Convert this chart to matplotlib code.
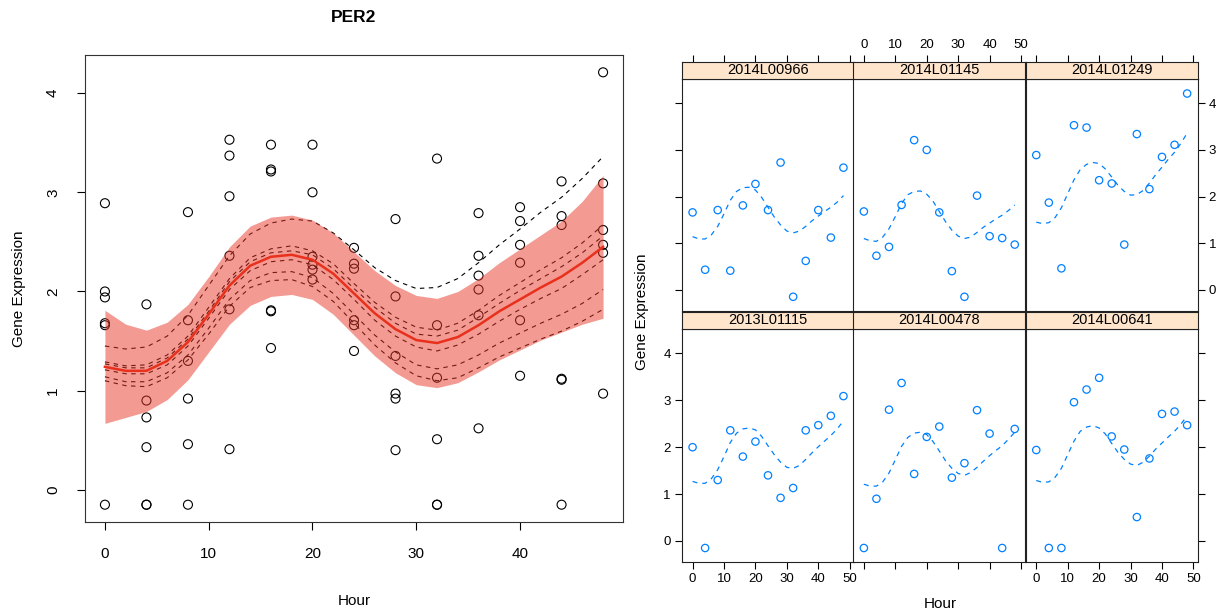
import matplotlib.pyplot as plt
import numpy as np

plt.rcParams['font.family'] = ['Liberation Sans', 'DejaVu Sans']

hours = [0, 4, 8, 12, 16, 20, 24, 28, 32, 36, 40, 44, 48]
subjects = ['2014L00966', '2014L01145', '2014L01249',
            '2013L01115', '2014L00478', '2014L00641']

# observed expression per subject (13 time points each)
expr = {
    '2014L00966': [1.66, 0.43, 1.71, 0.41, 1.81, 2.27, 1.71, 2.73, -0.15, 0.62, 1.71, 1.12, 2.62],
    '2014L01145': [1.68, 0.73, 0.92, 1.82, 3.21, 3.00, 1.66, 0.40, -0.15, 2.02, 1.15, 1.11, 0.97],
    '2014L01249': [2.89, 1.87, 0.46, 3.53, 3.48, 2.35, 2.28, 0.97, 3.34, 2.16, 2.85, 3.11, 4.21],
    '2013L01115': [2.00, -0.15, 1.30, 2.36, 1.80, 2.12, 1.40, 0.92, 1.13, 2.36, 2.47, 2.67, 3.09],
    '2014L00478': [-0.15, 0.90, 2.80, 3.37, 1.43, 2.22, 2.44, 1.35, 1.66, 2.79, 2.29, -0.15, 2.39],
    '2014L00641': [1.94, -0.15, -0.15, 2.96, 3.23, 3.48, 2.23, 1.95, 0.51, 1.76, 2.71, 2.76, 2.47],
}

# fitted curves on a 2 hour grid
fit_hours = [0, 2, 4, 6, 8, 10, 12, 14, 16, 18, 20, 22, 24,
             26, 28, 30, 32, 34, 36, 38, 40, 42, 44, 46, 48]
mean_fit = [1.24, 1.20, 1.20, 1.30, 1.49, 1.77, 2.06, 2.26, 2.35, 2.37, 2.32, 2.18, 1.98,
            1.78, 1.62, 1.51, 1.48, 1.54, 1.66, 1.80, 1.92, 2.04, 2.15, 2.29, 2.45]
band_upper = [1.81, 1.67, 1.61, 1.69, 1.87, 2.15, 2.45, 2.66, 2.75, 2.77, 2.72, 2.59, 2.40,
              2.21, 2.06, 1.96, 1.93, 2.00, 2.13, 2.29, 2.43, 2.57, 2.71, 2.91, 3.17]
band_lower = [0.67, 0.73, 0.79, 0.91, 1.11, 1.39, 1.67, 1.86, 1.95, 1.97, 1.92, 1.77, 1.56,
              1.35, 1.18, 1.06, 1.03, 1.08, 1.19, 1.31, 1.41, 1.51, 1.59, 1.67, 1.73]
subject_fit = {
    '2014L00966': [1.14, 1.09, 1.09, 1.18, 1.36, 1.63, 1.92, 2.11, 2.19, 2.20, 2.14, 1.98, 1.77,
                   1.56, 1.39, 1.26, 1.22, 1.26, 1.36, 1.48, 1.58, 1.68, 1.77, 1.88, 2.02],
    '2014L01145': [1.10, 1.05, 1.04, 1.13, 1.31, 1.57, 1.85, 2.04, 2.11, 2.12, 2.05, 1.90, 1.68,
                   1.46, 1.28, 1.15, 1.10, 1.13, 1.23, 1.34, 1.43, 1.52, 1.60, 1.70, 1.82],
    '2014L01249': [1.45, 1.42, 1.44, 1.55, 1.76, 2.06, 2.36, 2.58, 2.69, 2.73, 2.71, 2.59, 2.42,
                   2.24, 2.11, 2.03, 2.04, 2.13, 2.29, 2.47, 2.63, 2.80, 2.95, 3.14, 3.36],
    '2013L01115': [1.27, 1.23, 1.23, 1.33, 1.52, 1.80, 2.10, 2.30, 2.39, 2.41, 2.37, 2.23, 2.03,
                   1.84, 1.68, 1.57, 1.55, 1.61, 1.74, 1.88, 2.01, 2.13, 2.25, 2.39, 2.56],
    '2014L00478': [1.21, 1.17, 1.17, 1.26, 1.45, 1.73, 2.02, 2.21, 2.30, 2.32, 2.27, 2.12, 1.92,
                   1.71, 1.55, 1.44, 1.40, 1.46, 1.57, 1.70, 1.82, 1.93, 2.03, 2.17, 2.32],
    '2014L00641': [1.29, 1.25, 1.26, 1.36, 1.55, 1.84, 2.13, 2.34, 2.43, 2.46, 2.41, 2.28, 2.08,
                   1.89, 1.74, 1.64, 1.61, 1.68, 1.81, 1.96, 2.09, 2.22, 2.34, 2.49, 2.67],
}

W, H = 1221, 615
fig = plt.figure(figsize=(W / 100, H / 100), dpi=100)


def box(left, top, right, bottom):
    return [left / W, 1 - bottom / H, (right - left) / W, (bottom - top) / H]


# ---------- left: base-style plot ----------
ax = fig.add_axes(box(85, 55, 623, 522))
for s in subjects:
    ax.plot(fit_hours, subject_fit[s], color='black', lw=0.8, linestyle=(0, (4, 4)), zorder=2)
for s in subjects:
    ax.scatter(hours, expr[s], s=42, facecolors='none', edgecolors='black', linewidths=0.8, zorder=3)
ax.fill_between(fit_hours, band_lower, band_upper, color='#E93727', alpha=0.5, lw=0, zorder=4)
ax.plot(fit_hours, mean_fit, color='#E8301C', lw=1.8, zorder=5, solid_joinstyle='round')

ax.set_xlim(-1.92, 49.92)
ax.set_ylim(-0.3244, 4.3844)
ax.set_xticks([0, 10, 20, 30, 40])
ax.set_yticks([0, 1, 2, 3, 4])
ax.tick_params(axis='both', direction='out', length=6, width=0.8, labelsize=11)
ax.tick_params(axis='x', pad=12)
ax.tick_params(axis='y', pad=12, labelrotation=90)
for lab in ax.get_yticklabels():
    lab.set_va('center')
for sp in ax.spines.values():
    sp.set_linewidth(0.8)
    sp.set_color('#333333')

fig.text(354 / W, 1 - 18 / H, 'PER2', ha='center', va='center', fontsize=12.5, fontweight='bold')
fig.text(354 / W, 1 - 601 / H, 'Hour', ha='center', va='center', fontsize=11)
fig.text(19 / W, 1 - 289 / H, 'Gene Expression', ha='center', va='center', fontsize=11, rotation=90)

# ---------- right: lattice-style panels ----------
col_left = [682, 853.3, 1025.7]
col_w = 172
rows = [(61.7, 79.3, 311), (311.7, 329.3, 562.3)]  # strip top, panel top, panel bottom
order = [['2014L00966', '2014L01145', '2014L01249'],
         ['2013L01115', '2014L00478', '2014L00641']]
blue = '#0080FF'
xl = (-3.36, 51.36)
yl = (-0.455, 4.515)

for r, (st, pt, pb) in enumerate(rows):
    for c in range(3):
        s = order[r][c]
        L = col_left[c]
        pax = fig.add_axes(box(L, pt, L + col_w, pb))
        pax.scatter(hours, expr[s], s=28, facecolors='none', edgecolors=blue, linewidths=0.9, zorder=3)
        pax.plot(fit_hours, subject_fit[s], color=blue, lw=0.9, linestyle=(0, (4, 4)))
        pax.set_xlim(*xl)
        pax.set_ylim(*yl)
        pax.set_xticks([0, 10, 20, 30, 40, 50])
        pax.set_yticks([0, 1, 2, 3, 4])
        pax.tick_params(direction='out', length=5, width=0.8, labelsize=9.5, pad=3)
        for sp in pax.spines.values():
            sp.set_linewidth(0.8)
            sp.set_color('#222222')
        # bottom axis only on bottom row
        if r == 1:
            pax.tick_params(axis='x', bottom=True, labelbottom=(c != 1))
        else:
            pax.tick_params(axis='x', bottom=False, labelbottom=False)
        # left / right axes
        left_on = (c == 0)
        right_on = (c == 2)
        pax.tick_params(axis='y', left=left_on, labelleft=(left_on and r == 1),
                        right=right_on, labelright=(right_on and r == 0))

        sax = fig.add_axes(box(L, st, L + col_w, pt))
        sax.set_facecolor('#FFE5CC')
        sax.set_xlim(*xl)
        sax.set_yticks([])
        sax.set_xticks([0, 10, 20, 30, 40, 50])
        for sp in sax.spines.values():
            sp.set_linewidth(0.8)
            sp.set_color('#222222')
        if r == 0:
            sax.tick_params(axis='x', direction='out', length=5, width=0.8, labelsize=9.5, pad=3,
                            bottom=False, labelbottom=False, top=True, labeltop=(c == 1))
        else:
            sax.tick_params(axis='x', bottom=False, labelbottom=False, top=False, labeltop=False)
        sax.text(0.5, 0.5, s, transform=sax.transAxes, ha='center', va='center', fontsize=10.5)

fig.text(940 / W, 1 - 604 / H, 'Hour', ha='center', va='center', fontsize=11)
fig.text(642 / W, 1 - 312 / H, 'Gene Expression', ha='center', va='center', fontsize=11, rotation=90)

fig.savefig('out.png', dpi=100)
